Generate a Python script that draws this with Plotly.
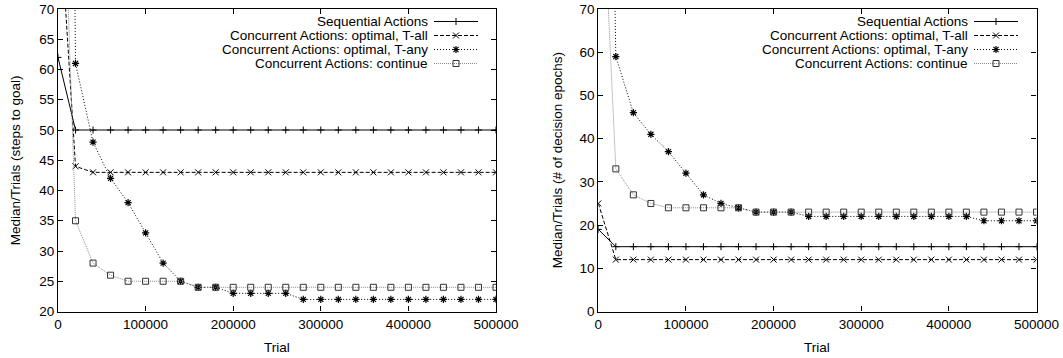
import plotly.graph_objects as go

W, H = 1063, 358

trials = [0, 20000, 40000, 60000, 80000, 100000, 120000, 140000, 160000, 180000,
          200000, 220000, 240000, 260000, 280000, 300000, 320000, 340000, 360000,
          380000, 400000, 420000, 440000, 460000, 480000, 500000, 520000]

# Left panel: steps to goal
seq_L = [62] + [50] * 26
tall_L = [90, 44] + [43] * 25
tany_L = [350, 61, 48, 42, 38, 33, 28, 25, 24, 24, 23, 23, 23, 23] + [22] * 13
cont_L = [120, 35, 28, 26, 25, 25, 25, 25] + [24] * 19

# Right panel: decision epochs
seq_R = [19] + [15] * 26
tall_R = [25] + [12] * 26
tany_R = [300, 59, 46, 41, 37, 32, 27, 25, 24, 23, 23, 23] + [22] * 10 + [21] * 5
cont_R = [120, 33, 27, 25, 24, 24, 24, 24, 24] + [23] * 18

names = ["Sequential Actions", "Concurrent Actions: optimal, T-all",
         "Concurrent Actions: optimal, T-any", "Concurrent Actions: continue"]

x_ticks = [0, 100000, 200000, 300000, 400000, 500000]
yL_ticks = [20, 25, 30, 35, 40, 45, 50, 55, 60, 65, 70]
yR_ticks = [0, 10, 20, 30, 40, 50, 60, 70]

FONT = "Liberation Sans, Arial, sans-serif"
FS = 13.5

styles = [
    dict(line=dict(color="black", width=1, dash="solid"),
         marker=dict(symbol="cross-thin-open", size=5, color="black", line=dict(color="black", width=1))),
    dict(line=dict(color="black", width=1, dash="4px,2px"),
         marker=dict(symbol="x-thin-open", size=6, color="black", line=dict(color="black", width=1))),
    dict(line=dict(color="black", width=1, dash="1px,2px"),
         marker=dict(symbol="asterisk-open", size=6, color="black", line=dict(color="black", width=1.2))),
    dict(line=dict(color="#8a8a8a", width=1, dash="1px,1px"),
         marker=dict(symbol="square-open", size=6, color="#333", line=dict(color="#333", width=1))),
]

fig = go.Figure()

for series, xa, ya in [((seq_L, tall_L, tany_L, cont_L), "x", "y"),
                       ((seq_R, tall_R, tany_R, cont_R), "x2", "y2")]:
    for i, ys in enumerate(series):
        fig.add_trace(go.Scatter(x=trials, y=ys, mode="lines+markers", xaxis=xa, yaxis=ya,
                                 showlegend=False, hoverinfo="skip", **styles[i]))

# domains in pixels
L = (58 / W, 496 / W)
R = (598.3 / W, 1036.5 / W)
Y = (1 - 311.5 / H, 1 - 9 / H)

axis_common = dict(showgrid=False, zeroline=False, showline=True, linecolor="black",
                   linewidth=1.2, mirror="ticks", ticks="inside", ticklen=5,
                   tickcolor="black", tickwidth=1, automargin=False,
                   tickfont=dict(family=FONT, size=FS, color="black"))

fig.update_layout(
    width=W, height=H, margin=dict(l=0, r=0, t=0, b=0),
    paper_bgcolor="white", plot_bgcolor="white",
    font=dict(family=FONT, size=FS, color="black"),
    xaxis=dict(domain=L, range=[0, 500000], tickvals=x_ticks, tickformat="d",
               anchor="y", **axis_common),
    yaxis=dict(domain=Y, range=[20, 70], tickvals=yL_ticks, anchor="x", **axis_common),
    xaxis2=dict(domain=R, range=[0, 500000], tickvals=x_ticks, tickformat="d",
                anchor="y2", **axis_common),
    yaxis2=dict(domain=Y, range=[0, 70], tickvals=yR_ticks, anchor="x2", **axis_common),
)

# axis titles
ann = [
    dict(text="Trial", x=(L[0] + L[1]) / 2, y=1 - 347 / H),
    dict(text="Trial", x=(R[0] + R[1]) / 2, y=1 - 347 / H),
    dict(text="Median/Trials (steps to goal)", x=15 / W, y=(Y[0] + Y[1]) / 2, textangle=-90),
    dict(text="Median/Trials (# of decision epochs)", x=557 / W, y=(Y[0] + Y[1]) / 2, textangle=-90),
]
for a in ann:
    fig.add_annotation(xref="paper", yref="paper", showarrow=False, xanchor="center",
                       yanchor="middle", font=dict(family=FONT, size=FS, color="black"), **a)

# custom gnuplot-style keys (text right-aligned, sample on the right)
row_px = [21.5, 35.5, 49.5, 63.5]
keys = [(430, 434, 478, "x3", "y3"), (970, 974, 1018, "x4", "y4")]
for text_right, s0, s1, xa, ya in keys:
    n = xa[1:]
    fig.update_layout(**{
        f"xaxis{n}": dict(domain=(s0 / W, s1 / W), range=[0, 1], visible=False, fixedrange=True, anchor=ya),
        f"yaxis{n}": dict(domain=(1 - 70.5 / H, 1 - 14.5 / H), range=[4, 0], visible=False, fixedrange=True, anchor=xa),
    })
    for i, nm in enumerate(names):
        fig.add_annotation(xref="paper", yref="paper", x=text_right / W, y=1 - row_px[i] / H,
                           text=nm, showarrow=False, xanchor="right", yanchor="middle",
                           font=dict(family=FONT, size=FS, color="black"))
        fig.add_trace(go.Scatter(x=[0, 1], y=[i + 0.5, i + 0.5], mode="lines", xaxis=xa, yaxis=ya,
                                 line=styles[i]["line"], showlegend=False, hoverinfo="skip"))
        fig.add_trace(go.Scatter(x=[0.5], y=[i + 0.5], mode="markers", xaxis=xa, yaxis=ya,
                                 marker=styles[i]["marker"], showlegend=False, hoverinfo="skip"))

fig.write_html("out.html", config={"displayModeBar": False},
               post_script="document.body.style.margin='0';document.body.style.overflow='hidden';")
